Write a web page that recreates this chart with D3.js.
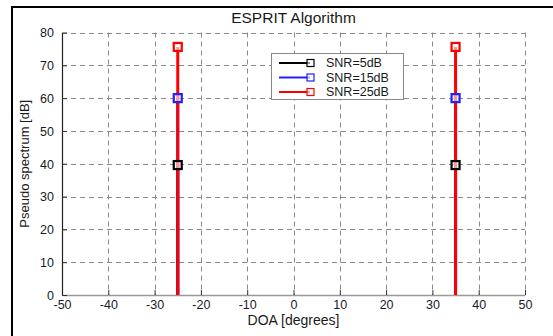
<!DOCTYPE html>
<html><head><meta charset="utf-8">
<script src="https://cdn.jsdelivr.net/npm/d3@7"></script>
<style>
html,body{margin:0;padding:0;background:#fff;}
svg{display:block;font-family:"Liberation Sans",Arial,sans-serif;}
</style></head>
<body>
<svg id="chart" width="553" height="336"></svg>
<script>
// Data
const seriesNames = ["SNR=5dB", "SNR=15dB", "SNR=25dB"];
const seriesColors = ["#000000", "#1f1fff", "#ff0000"];
const doaPeaks = [-25, 35];
const peakValues5dB = [39.6, 39.6];
const peakValues15dB = [60.0, 60.0];
const peakValues25dB = [75.6, 75.6];
const xTicks = [-50, -40, -30, -20, -10, 0, 10, 20, 30, 40, 50];
const yTicks = [0, 10, 20, 30, 40, 50, 60, 70, 80];

const allPeaks = [peakValues5dB, peakValues15dB, peakValues25dB];

const svg = d3.select("#chart");
const L = 62, R = 525, T = 32.5, B = 295;
const x = d3.scaleLinear().domain([-50, 50]).range([L, R]);
const y = d3.scaleLinear().domain([0, 80]).range([B, T]);

// outer frame (page figure border)
svg.append("path").attr("d", "M12,336 L12,7 L553,7")
  .attr("fill", "none").attr("stroke", "#000").attr("stroke-width", 2);

// grid
const g = svg.append("g");
g.selectAll(".vg").data(xTicks.slice(1)).enter().append("line")
  .attr("x1", d => Math.round(x(d)) + 0.5).attr("x2", d => Math.round(x(d)) + 0.5)
  .attr("y1", y(80)).attr("y2", B)
  .attr("stroke", "#8a8a8a").attr("stroke-width", 1).attr("stroke-dasharray", "5,4");
g.selectAll(".hg").data(yTicks.slice(1)).enter().append("line")
  .attr("y1", d => Math.round(y(d)) + 0.5).attr("y2", d => Math.round(y(d)) + 0.5)
  .attr("x1", L).attr("x2", R)
  .attr("stroke", "#8a8a8a").attr("stroke-width", 1).attr("stroke-dasharray", "5,4");

// axes
const fmt = d => String(d);
const xAxis = d3.axisBottom(x).tickValues(xTicks).tickFormat(fmt).tickSizeInner(-5).tickSizeOuter(0).tickPadding(8);
const yAxis = d3.axisLeft(y).tickValues(yTicks).tickFormat(fmt).tickSizeInner(-5).tickSizeOuter(0).tickPadding(8);
const gx = svg.append("g").attr("transform", `translate(0,${B})`).call(xAxis);
const gy = svg.append("g").attr("transform", `translate(${L},0)`).call(yAxis);
gx.select(".domain").attr("stroke", "#999").attr("stroke-width", 1.5);
gy.select(".domain").attr("stroke", "#222").attr("stroke-width", 1.2);
[gx, gy].forEach(a => {
  a.selectAll(".tick line").attr("stroke", "#333");
  a.selectAll(".tick text").attr("fill", "#1a1a2a").style("font-size", "12.5px")
    .style("font-family", "'Liberation Sans',Arial,sans-serif");
});
gx.selectAll(".tick text").attr("dy", "0.5em");
gy.selectAll(".tick text").attr("dy", "0.35em");

// series (stems with marker at peak)
const lineGen = d3.line().x(d => x(d[0])).y(d => y(d[1]));
allPeaks.forEach((vals, si) => {
  const sg = svg.append("g");
  doaPeaks.forEach((doa, i) => {
    sg.append("path").datum([[doa, 0], [doa, vals[i]]])
      .attr("d", lineGen).attr("stroke", seriesColors[si]).attr("stroke-width", 3).attr("fill", "none");
  });
});
allPeaks.forEach((vals, si) => {
  doaPeaks.forEach((doa, i) => {
    svg.append("rect")
      .attr("x", x(doa) - 4).attr("y", y(vals[i]) - 4)
      .attr("width", 8).attr("height", 8)
      .attr("fill", "#fff").attr("fill-opacity", 0.6)
      .attr("stroke", seriesColors[si]).attr("stroke-width", 2.2);
  });
});

// title and labels
svg.append("text").attr("x", (L + R) / 2).attr("y", 23).attr("text-anchor", "middle")
  .style("font-size", "15.5px").attr("fill", "#1a1a1a").text("ESPRIT Algorithm");
svg.append("text").attr("x", (L + R) / 2).attr("y", 325).attr("text-anchor", "middle")
  .style("font-size", "14px").attr("fill", "#1a1a1a").text("DOA [degrees]");
svg.append("text").attr("transform", `translate(29,${(T + B) / 2}) rotate(-90)`)
  .attr("text-anchor", "middle").style("font-size", "13px").attr("fill", "#1a1a1a")
  .text("Pseudo spectrum [dB]");

// legend
const lg = svg.append("g");
lg.append("rect").attr("x", 271.5).attr("y", 53.5).attr("width", 132).attr("height", 46)
  .attr("fill", "#fff").attr("stroke", "#888").attr("stroke-width", 1);
seriesNames.forEach((name, i) => {
  const yy = 63 + i * 14.5;
  lg.append("line").attr("x1", 279).attr("x2", 310).attr("y1", yy).attr("y2", yy)
    .attr("stroke", seriesColors[i]).attr("stroke-width", 2);
  lg.append("rect").attr("x", 307).attr("y", yy - 3.5).attr("width", 7).attr("height", 7)
    .attr("fill", "#fff").attr("fill-opacity", 0.6).attr("stroke", seriesColors[i]).attr("stroke-width", 1.2);
  lg.append("text").attr("x", 326).attr("y", yy).attr("dy", "0.35em")
    .style("font-size", "12.5px").attr("fill", "#1a1a1a").text(name);
});
</script>
</body></html>
